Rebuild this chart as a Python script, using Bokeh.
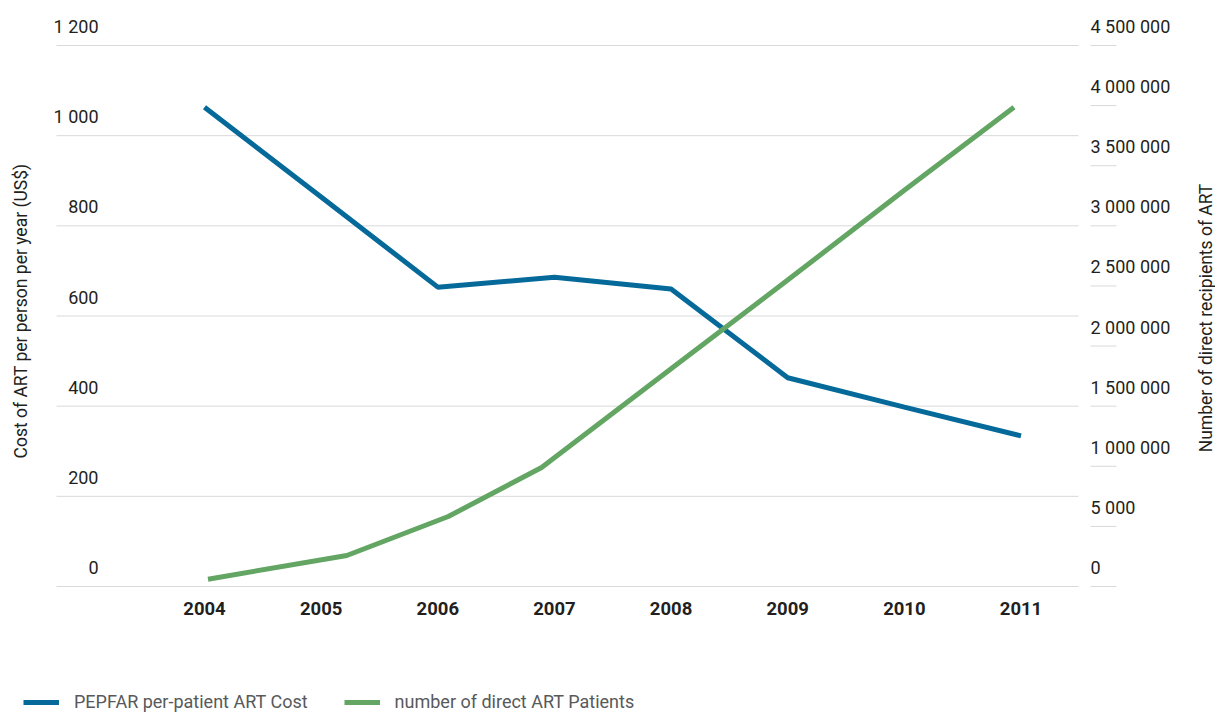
import math
from bokeh.plotting import figure
from bokeh.models import (Range1d, LabelSet, ColumnDataSource, Label,
                          Legend, LegendItem)
from bokeh.core.properties import value
from bokeh.embed import file_html
from bokeh.resources import INLINE

# ---------------- data ----------------
years = [2004, 2005, 2006, 2007, 2008, 2009, 2010, 2011]
cost = [1063, 864, 664, 686, 660, 463, 398, 334]

patient_years = [2004.03, 2005.22, 2006.09, 2006.89, 2008.0, 2009.0, 2010.0, 2010.94]
patients = [61000, 258000, 582000, 990000, 1811000, 2549000, 3296000, 3987000]

year_labels = [str(y) for y in years]

cost_ticks = [0, 200, 400, 600, 800, 1000, 1200]
cost_tick_labels = ["0", "200", "400", "600", "800", "1 000", "1 200"]

patient_ticks = [0, 500000, 1000000, 1500000, 2000000, 2500000, 3000000,
                 3500000, 4000000, 4500000]
patient_tick_labels = ["0", "5 000", "1 000 000", "1 500 000", "2 000 000",
                       "2 500 000", "3 000 000", "3 500 000", "4 000 000",
                       "4 500 000"]

series_names = ["PEPFAR per-patient ART Cost", "number of direct ART Patients"]
left_title = "Cost of ART per person per year (US$)"
right_title = "Number of direct recipients of ART"

# ---------------- layout / styling ----------------
W, H = 1215, 712
X_FIRST_PX, X_LAST_PX = 204.0, 1020.5      # centres of first / last year
Y0_PX, YTOP_PX = 586.0, 45.0               # pixel rows of 0 and of the top tick
GRID_L_PX, GRID_R_PX = 56.0, 1078.0
RT_L_PX, RT_R_PX = 1090.0, 1116.0

Y_MAX = 1200
P_MAX = 4500000

BLUE = "#05699a"
GREEN = "#63a563"
GRID = "#d9d9d9"
TXT = "#231f20"
LEG = "#58595b"
FONT_NAME = "Roboto"
FONT = value(FONT_NAME)

ppy = (X_LAST_PX - X_FIRST_PX) / (years[-1] - years[0])
ppu = (Y0_PX - YTOP_PX) / Y_MAX


def xdat(px):
    return years[0] + (px - X_FIRST_PX) / ppy


x_lo, x_hi = xdat(0), xdat(W)
y_lo, y_hi = -(H - Y0_PX) / ppu, Y_MAX + YTOP_PX / ppu
ratio = P_MAX / Y_MAX

p = figure(width=W, height=H,
           x_range=Range1d(x_lo, x_hi), y_range=Range1d(y_lo, y_hi),
           x_axis_type=None, y_axis_type=None,
           output_backend="svg", toolbar_location=None,
           min_border=0)
p.outline_line_color = None
p.background_fill_color = "white"
p.border_fill_color = "white"
p.extra_y_ranges = {"patients": Range1d(y_lo * ratio, y_hi * ratio)}

# horizontal gridlines (left scale)
gsrc = ColumnDataSource(dict(y=cost_ticks))
p.segment(x0=xdat(GRID_L_PX), x1=xdat(GRID_R_PX), y0="y", y1="y",
          source=gsrc, line_color=GRID, line_width=1, level="underlay")

# short tick marks of the right scale
tsrc = ColumnDataSource(dict(y=patient_ticks))
p.segment(x0=xdat(RT_L_PX), x1=xdat(RT_R_PX), y0="y", y1="y",
          source=tsrc, line_color=GRID, line_width=1, level="underlay",
          y_range_name="patients")

# lines
r_cost = p.line(years, cost, line_color=BLUE, line_width=5)
r_pat = p.line(patient_years, patients, line_color=GREEN, line_width=5,
               y_range_name="patients")

# left tick labels (above the gridlines)
lsrc = ColumnDataSource(dict(x=[xdat(GRID_L_PX)] * len(cost_ticks),
                             y=cost_ticks, t=cost_tick_labels))
p.add_layout(LabelSet(x="x", y="y", text="t", source=lsrc,
                      x_offset=42, y_offset=19,
                      text_align="right", text_baseline="middle",
                      text_font=FONT, text_font_size="18px",
                      text_color=TXT))

# right tick labels
rsrc = ColumnDataSource(dict(x=[xdat(GRID_R_PX)] * len(patient_ticks),
                             y=patient_ticks, t=patient_tick_labels))
p.add_layout(LabelSet(x="x", y="y", text="t", source=rsrc,
                      y_range_name="patients",
                      x_offset=12, y_offset=19,
                      text_align="left", text_baseline="middle",
                      text_font=FONT, text_font_size="18px",
                      text_color=TXT))

# year labels
ysrc = ColumnDataSource(dict(x=years, y=[0] * len(years), t=year_labels))
p.add_layout(LabelSet(x="x", y="y", text="t", source=ysrc,
                      y_offset=-22, text_align="center",
                      text_baseline="middle",
                      text_font=FONT, text_font_style="bold",
                      text_font_size="18.5px", text_color=TXT))

# axis titles
p.add_layout(Label(x=x_lo, y=Y_MAX / 2, x_offset=20, y_offset=5,
                   text=left_title, angle=math.pi / 2,
                   text_align="center", text_baseline="middle",
                   text_font=FONT_NAME, text_font_size="17.5px", text_color=TXT))
p.add_layout(Label(x=x_hi, y=Y_MAX / 2, x_offset=-10, y_offset=-2,
                   text=right_title, angle=math.pi / 2,
                   text_align="center", text_baseline="middle",
                   text_font=FONT_NAME, text_font_size="17.5px", text_color=TXT))

# legend
legend = Legend(items=[LegendItem(label=series_names[0], renderers=[r_cost]),
                       LegendItem(label=series_names[1], renderers=[r_pat])],
                orientation="horizontal", location=(23, 0),
                padding=0, margin=0, border_line_color=None,
                background_fill_alpha=0, glyph_width=36, glyph_height=20,
                label_standoff=15, spacing=36,
                label_text_font=FONT_NAME, label_text_font_size="18px",
                label_text_color=LEG)
p.add_layout(legend)

open("out.html", "w").write(file_html(p, INLINE))
